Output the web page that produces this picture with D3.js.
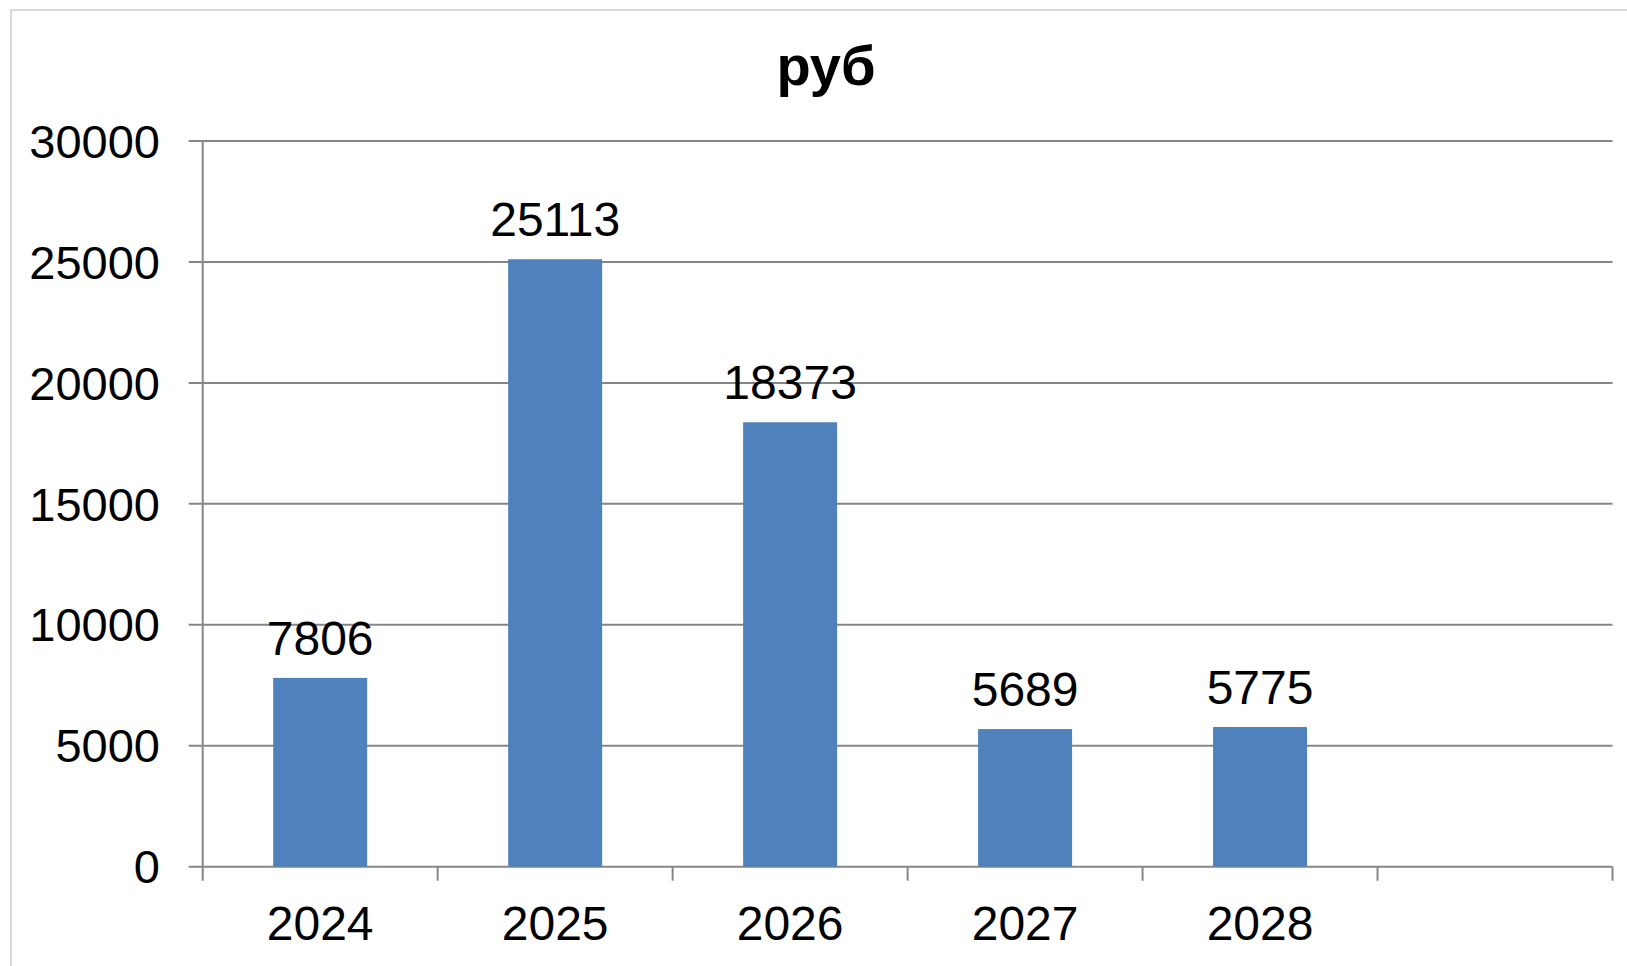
<!DOCTYPE html>
<html>
<head>
<meta charset="utf-8">
<script src="https://cdn.jsdelivr.net/npm/d3@7"></script>
<style>
html,body{margin:0;padding:0;background:#fff;}
svg{display:block;font-family:"Liberation Sans",Arial,sans-serif;}
</style>
</head>
<body>
<svg id="chart" width="1627" height="966"></svg>
<script>
const title = "руб";
const categories = ["2024", "2025", "2026", "2027", "2028"];
const values = [7806, 25113, 18373, 5689, 5775];
const yTicks = [0, 5000, 10000, 15000, 20000, 25000, 30000];
const yMax = 30000;

const svg = d3.select("#chart");
const W = 1627, H = 966;
const plotLeft = 202.7, plotRight = 1612.5, plotTop = 141, plotBottom = 866.7;
const gridColor = "#868686";

// outer frame
svg.append("rect").attr("x", 11).attr("y", 10).attr("width", W + 20).attr("height", H + 20)
  .attr("fill", "#fff").attr("stroke", "#d9d9d9").attr("stroke-width", 2);

const slots = categories.concat([""]);
const x = d3.scaleBand().domain(slots).range([plotLeft, plotRight]).paddingInner(0).paddingOuter(0);
const y = d3.scaleLinear().domain([0, yMax]).range([plotBottom, plotTop]);

// gridlines + y ticks
svg.append("g").selectAll("line").data(yTicks).join("line")
  .attr("x1", plotLeft - 14).attr("x2", plotRight)
  .attr("y1", d => y(d)).attr("y2", d => y(d))
  .attr("stroke", gridColor).attr("stroke-width", 2);

// y axis line
svg.append("line").attr("x1", plotLeft).attr("x2", plotLeft).attr("y1", plotTop).attr("y2", plotBottom + 14)
  .attr("stroke", gridColor).attr("stroke-width", 2);

// x ticks at band boundaries
const bounds = slots.map(s => x(s)).concat([x.range()[1]]);
svg.append("g").selectAll("line").data(bounds.slice(1)).join("line")
  .attr("x1", d => d).attr("x2", d => d).attr("y1", plotBottom).attr("y2", plotBottom + 14)
  .attr("stroke", gridColor).attr("stroke-width", 2);

// y tick labels
svg.append("g").selectAll("text").data(yTicks).join("text")
  .attr("x", 160).attr("y", d => y(d)).attr("dy", "0.355em")
  .attr("text-anchor", "end").attr("font-size", 47).attr("fill", "#000")
  .text(d => d);

// x labels
svg.append("g").selectAll("text").data(categories).join("text")
  .attr("x", d => x(d) + x.bandwidth() / 2).attr("y", 940)
  .attr("text-anchor", "middle").attr("font-size", 48).attr("fill", "#000")
  .text(d => d);

// bars
const barW = x.bandwidth() * 0.4;
svg.append("g").selectAll("rect").data(categories).join("rect")
  .attr("x", d => x(d) + (x.bandwidth() - barW) / 2)
  .attr("width", barW)
  .attr("y", (d, i) => y(values[i]))
  .attr("height", (d, i) => y(0) - y(values[i]))
  .attr("fill", "#4f81bd");

// data labels
svg.append("g").selectAll("text").data(categories).join("text")
  .attr("x", d => x(d) + x.bandwidth() / 2)
  .attr("y", (d, i) => y(values[i]) - 23)
  .attr("text-anchor", "middle").attr("font-size", 48).attr("fill", "#000")
  .text((d, i) => values[i]);

// title
svg.append("text").attr("x", 826).attr("y", 85).attr("text-anchor", "middle")
  .attr("font-size", 56).attr("font-weight", "bold").attr("fill", "#000").text(title);
</script>
</body>
</html>
